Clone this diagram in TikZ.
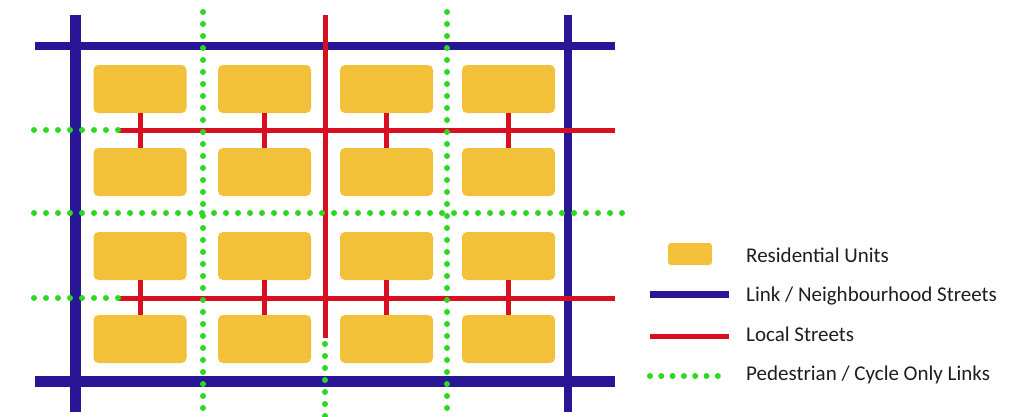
\documentclass[tikz,border=0pt]{standalone}
\usepackage{fontspec}
\setmainfont{Carlito}
\definecolor{unit}{RGB}{243,192,58}
\definecolor{linkblue}{RGB}{40,22,150}
\definecolor{localred}{RGB}{215,15,30}
\definecolor{pedgreen}{RGB}{45,215,35}
\definecolor{txt}{RGB}{30,30,30}
\begin{document}
\begin{tikzpicture}[x=1pt,y=-1pt,
  unitbox/.style={fill=unit, rounded corners=5pt, minimum width=93pt, minimum height=48pt, inner sep=0pt},
  linkthick/.style={draw=linkblue, line width=11pt},
  linkthin/.style={draw=linkblue, line width=8pt},
  localst/.style={draw=localred, line width=5pt},
  pedlink/.style={draw=pedgreen, line width=6pt, line cap=round, dash pattern=on 0pt off 12pt},
  legtext/.style={anchor=west, text=txt, font=\fontsize{21}{23}\selectfont, inner sep=0pt}]
\useasboundingbox (0,0) rectangle (1029,416);
\fill[white] (0,0) rectangle (1029,416);
% residential units
\foreach \c/\x in {1/140,2/264.5,3/386.5,4/508.5}{
  \foreach \r/\y in {1/89,2/172,3/256,4/339}{
    \node[unitbox] (b\r\c) at (\x,\y) {};
  }
}
% coordinates
\coordinate (tl) at (35,46);   \coordinate (tr) at (615,46);
\coordinate (bl) at (35,381);  \coordinate (br) at (615,381);
\coordinate (lt) at (75,15);   \coordinate (lb) at (75,412);
\coordinate (rt) at (568,15);  \coordinate (rb) at (568,412);
% blue link streets
\draw[linkthin] (tl) -- (tr);
\draw[linkthin] (rt) -- (rb);
\draw[linkthick] (lt) -- (lb);
\draw[linkthick] (bl) -- (br);
% red local streets
\coordinate (mt) at (325,15);  \coordinate (mb) at (325,338);
\coordinate (u1) at (118,130); \coordinate (u2) at (615,130);
\coordinate (d1) at (118,298); \coordinate (d2) at (615,298);
\draw[localst] (mt) -- (mb);
\draw[localst] (u1) -- (u2);
\draw[localst] (d1) -- (d2);
\foreach \c in {1,2,3,4}{
  \draw[localst] (b1\c.south) -- (b2\c.north);
  \draw[localst] (b3\c.south) -- (b4\c.north);
}
% green pedestrian links
\coordinate (g1t) at (203,12); \coordinate (g1b) at (203,416);
\coordinate (g2t) at (447,12); \coordinate (g2b) at (447,416);
\coordinate (g3t) at (325,344); \coordinate (g3b) at (325,416);
\coordinate (gh1) at (34,213); \coordinate (gh2) at (622,213);
\coordinate (gu) at (34,130); \coordinate (gd) at (34,298);
\draw[pedlink] (g1t) -- (g1b);
\draw[pedlink] (g2t) -- (g2b);
\draw[pedlink] (g3t) -- (g3b);
\draw[pedlink] (gh1) -- (gh2);
\draw[pedlink] (gu) -- (u1);
\draw[pedlink] (gd) -- (d1);
% legend
\node[fill=unit, rounded corners=3pt, minimum width=44pt, minimum height=22pt, inner sep=0pt] (lgu) at (690,254) {};
\coordinate (lb1) at (650,294); \coordinate (lb2) at (729,294);
\coordinate (lr1) at (650,336); \coordinate (lr2) at (729,336);
\coordinate (lg1) at (650,376); \coordinate (lg2) at (729,376);
\draw[linkthin, line width=7pt] (lb1) -- (lb2);
\draw[localst] (lr1) -- (lr2);
\draw[pedlink, dash pattern=on 0pt off 11.3pt] (lg1) -- (lg2);
\node[legtext] (t1) at (746,255) {Residential Units};
\node[legtext] (t2) at (746,296) {Link / Neighbourhood Streets};
\node[legtext] (t3) at (746,334) {Local Streets};
\node[legtext] (t4) at (746,375) {Pedestrian / Cycle Only Links};
\end{tikzpicture}
\end{document}
